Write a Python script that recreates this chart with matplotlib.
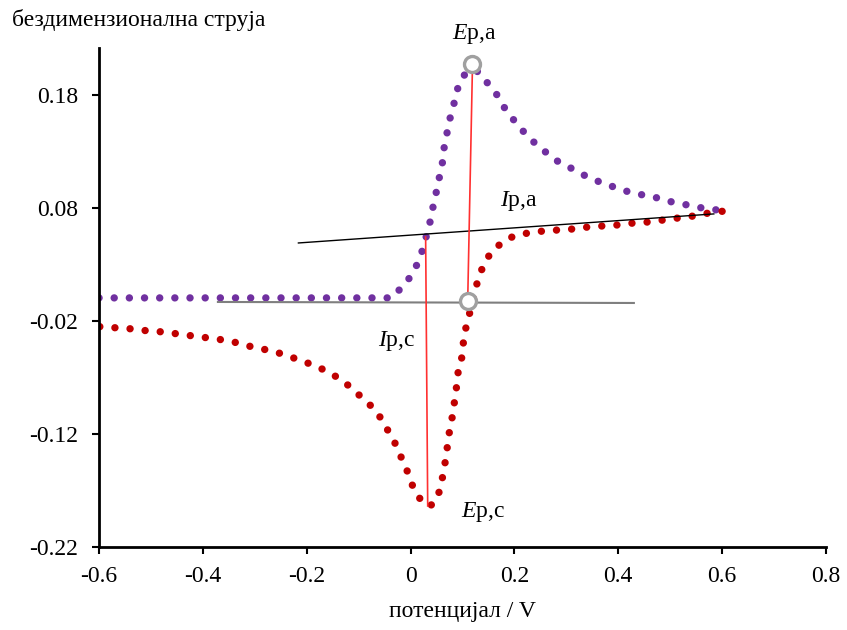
import matplotlib
matplotlib.use("Agg")
import matplotlib.pyplot as plt

plt.rcParams['font.family'] = ['Liberation Serif', 'DejaVu Serif']
plt.rcParams['mathtext.fontset'] = 'custom'
plt.rcParams['mathtext.rm'] = 'Liberation Serif'
plt.rcParams['mathtext.it'] = 'Liberation Serif:italic'
plt.rcParams['axes.unicode_minus'] = False

# forward (anodic) scan
fwd_v = [-0.600, -0.400, -0.200, -0.037, -0.020, -0.002, 0.013, 0.023, 0.031,
         0.038, 0.044, 0.050, 0.056, 0.062, 0.065, 0.071, 0.077, 0.085, 0.092,
         0.106, 0.118, 0.131, 0.148, 0.168, 0.181, 0.200, 0.218, 0.239, 0.262,
         0.285, 0.312, 0.337, 0.364, 0.391, 0.420, 0.447, 0.476, 0.503, 0.532,
         0.561, 0.590, 0.600]
fwd_i = [0.0004, 0.0004, 0.0004, 0.0004, 0.0083, 0.0181, 0.0304, 0.0428, 0.0561,
         0.0685, 0.0827, 0.0950, 0.1083, 0.1216, 0.1349, 0.1481, 0.1614, 0.1747,
         0.1880, 0.1995, 0.2021, 0.2004, 0.1906, 0.1791, 0.1685, 0.1570, 0.1473,
         0.1375, 0.1287, 0.1207, 0.1145, 0.1083, 0.1030, 0.0986, 0.0942, 0.0915,
         0.0888, 0.0853, 0.0827, 0.0800, 0.0782, 0.0770]

# reverse (cathodic) scan
rev_v = [0.600, 0.575, 0.546, 0.517, 0.488, 0.459, 0.430, 0.401, 0.372, 0.343,
         0.314, 0.285, 0.256, 0.227, 0.199, 0.175, 0.154, 0.139, 0.129, 0.123,
         0.116, 0.108, 0.102, 0.100, 0.092, 0.089, 0.085, 0.081, 0.075, 0.071,
         0.067, 0.062, 0.056, 0.044, 0.034, 0.021, 0.006, -0.004, -0.016, -0.027,
         -0.041, -0.056, -0.074, -0.095, -0.116, -0.139, -0.166, -0.193, -0.220,
         -0.247, -0.276, -0.305, -0.332, -0.361, -0.390, -0.419, -0.448, -0.477,
         -0.506, -0.534, -0.563, -0.600]
rev_i = [0.0770, 0.0756, 0.0729, 0.0712, 0.0694, 0.0676, 0.0667, 0.0650, 0.0641,
         0.0632, 0.0614, 0.0605, 0.0596, 0.0579, 0.0552, 0.0490, 0.0402, 0.0278,
         0.0154, 0.0030, -0.0094, -0.0227, -0.0368, -0.0501, -0.0634, -0.0766,
         -0.0899, -0.1032, -0.1173, -0.1306, -0.1439, -0.1572, -0.1704, -0.1819,
         -0.1840, -0.1793, -0.1687, -0.1554, -0.1430, -0.1306, -0.1191, -0.1067,
         -0.0961, -0.0873, -0.0784, -0.0704, -0.0634, -0.0581, -0.0536, -0.0492,
         -0.0457, -0.0430, -0.0395, -0.0368, -0.0350, -0.0333, -0.0315, -0.0297,
         -0.0288, -0.0271, -0.0262, -0.0250]

# baselines and peak markers
base_a_v = [-0.216, 0.584]
base_a_i = [0.0490, 0.0747]
base_c_v = [-0.371, 0.430]
base_c_i = [-0.0032, -0.0041]
peak_a_line_v = [0.119, 0.110]
peak_a_line_i = [0.2010, -0.0023]
peak_c_line_v = [0.029, 0.033]
peak_c_line_i = [0.0543, -0.1837]
circ_v = [0.119, 0.110]
circ_i = [0.2074, -0.0023]

x_ticks = [-0.6, -0.4, -0.2, 0, 0.2, 0.4, 0.6, 0.8]
x_labels = ['-0.6', '-0.4', '-0.2', '0', '0.2', '0.4', '0.6', '0.8']
y_ticks = [-0.22, -0.12, -0.02, 0.08, 0.18]
y_labels = ['-0.22', '-0.12', '-0.02', '0.08', '0.18']

fig = plt.figure(figsize=(8.47, 6.30), dpi=100)
ax = fig.add_axes([99 / 847, 1 - 547 / 630, 727 / 847, 499 / 630])

dots = (0, (0.01, 2.05))
ax.plot(fwd_v, fwd_i, color='#7030A0', lw=5.3, linestyle=dots,
        dash_capstyle='round', zorder=2)
ax.plot(rev_v, rev_i, color='#C00000', lw=5.3, linestyle=dots,
        dash_capstyle='round', zorder=2)

ax.plot(base_a_v, base_a_i, color='black', lw=1.0, zorder=3)
ax.plot(base_c_v, base_c_i, color='#7f7f7f', lw=1.5, zorder=3)
ax.plot(peak_a_line_v, peak_a_line_i, color='#FF3030', lw=1.2, zorder=3)
ax.plot(peak_c_line_v, peak_c_line_i, color='#FF3030', lw=1.2, zorder=3)
ax.plot(circ_v, circ_i, linestyle='none', marker='o', ms=11.5,
        markerfacecolor='white', markeredgecolor='#A0A0A0', mew=2.4, zorder=4)

fs = 17
ax.text(0.122, 0.2335, r'$E$p,a', fontsize=fs, ha='center', va='center')
ax.text(0.208, 0.0860, r'$I$p,a', fontsize=fs, ha='center', va='center')
ax.text(-0.027, -0.0380, r'$I$p,c', fontsize=fs, ha='center', va='center')
ax.text(0.139, -0.1890, r'$E$p,c', fontsize=fs, ha='center', va='center')

ax.set_xlim(-0.6, 0.8)
ax.set_ylim(-0.22, 0.2215)
ax.set_xticks(x_ticks)
ax.set_xticklabels(x_labels)
ax.set_yticks(y_ticks)
ax.set_yticklabels(y_labels)
ax.tick_params(direction='out', length=5, width=1.5, labelsize=fs, pad=9)
ax.tick_params(axis='y', pad=10)
for side in ['top', 'right']:
    ax.spines[side].set_visible(False)
for side in ['left', 'bottom']:
    ax.spines[side].set_linewidth(2)

fig.text(12 / 847, 1 - 20 / 630, 'бездимензионална струја', fontsize=fs,
         ha='left', va='center')
ax.set_xlabel('потенцијал / V', fontsize=fs, labelpad=10)

fig.savefig('out.png', dpi=100)
